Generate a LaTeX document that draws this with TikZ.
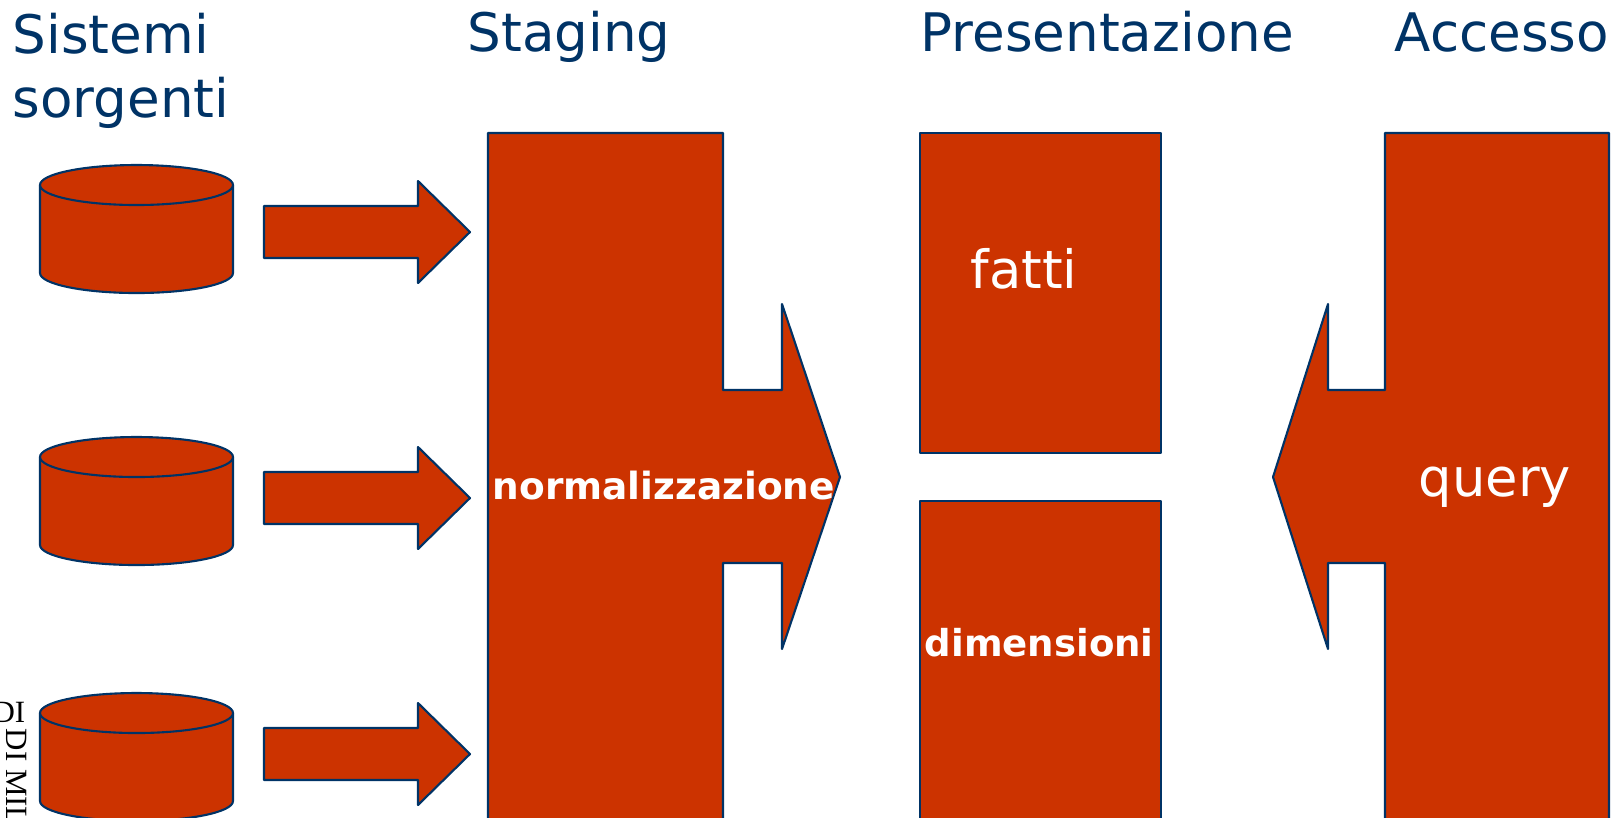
\documentclass[tikz,border=0pt]{standalone}
\usepackage{fontspec}
\usepackage{xcolor}
\setmainfont{DejaVu Sans}
\newfontfamily\sealfont{Liberation Serif}
\usetikzlibrary{arrows.meta,positioning,calc}
\definecolor{brick}{HTML}{CC3300}
\definecolor{navy}{HTML}{003366}
\tikzset{
  block/.style={draw=navy, fill=brick, line width=0.6pt, line join=round},
  head/.style={anchor=base west, inner sep=0pt, text=navy, font=\fontsize{15.1}{18}\selectfont},
  thin label/.style={anchor=base west, inner sep=0pt, text=white, font=\fontsize{15}{18}\selectfont},
  bold label/.style={anchor=base west, inner sep=0pt, text=white, font=\fontsize{10.65}{13}\selectfont\bfseries},
  seal/.style={inner sep=0pt, text=black, font=\fontsize{8.8}{11}\sealfont}
}

\begin{document}
\begin{tikzpicture}[x=0.01cm, y=-0.01cm]
  \useasboundingbox (0,0) rectangle (1619,817);
  \clip (0,0) rectangle (1619,817);

  % Seal text at the left edge
  \node[seal, anchor=base east] (sealtop) at (26,722) {DI};
  \node[seal, anchor=base west, rotate=-90] (sealside) at (6,728) {DI MILA};

  % Source databases and their arrows
  \foreach \yc/\ya in {185/232, 457/498, 713/754} {
    \draw[block] (40,\yc) -- (40,\yc+88)
      arc[start angle=180, end angle=0, x radius=96.5, y radius=20]
      -- (233,\yc) arc[start angle=0, end angle=-180, x radius=96.5, y radius=20] -- cycle;
    \draw[block] (40,\yc) arc[start angle=180, end angle=0, x radius=96.5, y radius=20];
    \draw[block] (264,\ya-26) -- (418,\ya-26) -- (418,\ya-51) -- (470,\ya)
      -- (418,\ya+51) -- (418,\ya+26) -- (264,\ya+26) -- cycle;
  }

  % Staging block
  \draw[block] (488,133) -- (723,133) -- (723,390) -- (782,390) -- (782,304)
    -- (840,477) -- (782,649) -- (782,563) -- (723,563) -- (723,830) -- (488,830) -- cycle;

  % Presentation blocks
  \draw[block] (920,133) rectangle (1161,453);
  \draw[block] (920,501) rectangle (1161,830);

  % Access block
  \draw[block] (1609,133) -- (1385,133) -- (1385,390) -- (1328,390) -- (1328,304)
    -- (1273,477) -- (1328,649) -- (1328,563) -- (1385,563) -- (1385,830) -- (1609,830) -- cycle;

  % Column headings
  \node[head] (sistemi) at (12,53) {Sistemi};
  \node[head] (sorgenti) at (12,117) {sorgenti};
  \node[head] (staging) at (467,51) {Staging};
  \node[head] (presentazione) at (920,51) {Presentazione};
  \node[head] (accesso) at (1394,51) {Accesso};

  % Block labels
  \node[thin label] (fatti) at (970,288) {fatti};
  \node[thin label] (query) at (1418,496) {query};
  \node[bold label] (normalizzazione) at (492,499) {normalizzazione};
  \node[bold label, font=\fontsize{10.55}{13}\selectfont\bfseries] (dimensioni) at (924,656) {dimensioni};
\end{tikzpicture}
\end{document}
